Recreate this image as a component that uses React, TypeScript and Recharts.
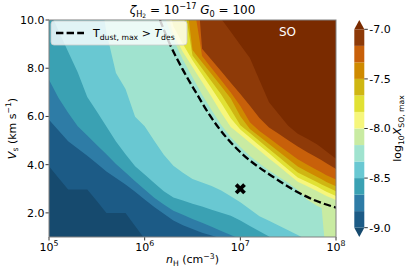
import React from 'react';
import {
  ComposedChart, Area, Line, Scatter, XAxis, YAxis, CartesianGrid, ReferenceArea, Customized,
} from 'recharts';

// sample positions along log10 n_H
const logNH = [5.0, 5.1, 5.2, 5.3, 5.4, 5.5, 5.6, 5.7, 5.8, 5.9, 6.0, 6.1, 6.2, 6.3, 6.4, 6.5, 6.6, 6.7, 6.8, 6.9, 7.0, 7.1, 7.2, 7.3, 7.4, 7.5, 7.6, 7.7, 7.8, 7.85, 7.9, 8.0];

// contour boundaries: V_s (km/s) where log10 X_SO,max crosses each level
const vsLev0 = [3.93, 3.45, 2.97, 2.97, 2.97, 2.49, 2.0, 2.0, 2.0, 1.46, 0.92, 0.38, 0, 0, 0, 0, 0, 0, 0, 0, 0, 0, 0, 0, 0, 0, 0, 0, 0, 0, 0, 0];
const vsLev1 = [5.86, 5.42, 4.97, 4.67, 4.37, 4.05, 3.72, 3.45, 3.18, 2.88, 2.56, 2.24, 1.96, 1.68, 1.49, 1.33, 1.18, 1.06, 0.94, 0.8, 0.6, 0.4, 0, 0, 0, 0, 0, 0, 0, 0, 0, 0];
const vsLev2 = [7.52, 6.77, 6.15, 5.59, 5.21, 4.82, 4.43, 4.03, 3.67, 3.31, 2.97, 2.63, 2.35, 2.09, 1.92, 1.75, 1.59, 1.42, 1.25, 1.08, 0.92, 0.75, 0.5, 0.3, 0, 0, 0, 0, 0, 0, 0, 0];
const vsLev3 = [10.45, 9.55, 8.68, 7.83, 6.81, 6.2, 5.58, 4.96, 4.43, 3.93, 3.59, 3.24, 2.9, 2.64, 2.51, 2.38, 2.26, 2.13, 2.01, 1.88, 1.68, 1.46, 1.24, 1.02, 0.8, 0.6, 0.4, 0.2, 0, 0, 0, 0];
const vsLev4 = [12, 12, 12, 12, 12, 12, 9.49, 7.8, 7.14, 5.99, 5.59, 4.99, 4.41, 3.95, 3.66, 3.41, 3.26, 3.12, 2.93, 2.69, 2.44, 2.15, 1.86, 1.67, 1.48, 1.28, 1.08, 0.88, 0.68, 0.58, 0.48, 0.28];
const vsLev5 = [12, 12, 12, 12, 12, 12, 12, 12, 12, 12, 12, 12, 10.2, 9.2, 8.35, 7.63, 6.91, 6.26, 5.65, 5.14, 4.73, 4.36, 4.05, 3.76, 3.5, 3.25, 2.95, 2.55, 2.3, 2.2, 0, 0];
const vsLev6 = [12, 12, 12, 12, 12, 12, 12, 12, 12, 12, 12, 12, 10.8, 9.42, 8.67, 8.05, 7.43, 6.81, 6.15, 5.56, 5.24, 4.91, 4.59, 4.26, 3.94, 3.61, 3.29, 3.1, 2.91, 2.8, 2.7, 2.53];
const vsLev7 = [12, 12, 12, 12, 12, 12, 12, 12, 12, 12, 12, 12, 11.3, 9.74, 9.0, 8.33, 7.74, 7.16, 6.56, 5.92, 5.46, 5.13, 4.8, 4.47, 4.13, 3.8, 3.47, 3.28, 3.09, 2.98, 2.88, 2.7];
const vsLev8 = [12, 12, 12, 12, 12, 12, 12, 12, 12, 12, 12, 12, 12, 12, 11, 8.53, 7.99, 7.45, 6.91, 6.29, 5.63, 5.31, 4.98, 4.65, 4.33, 4.0, 3.67, 3.48, 3.28, 3.18, 3.08, 2.9];
const vsLev9 = [12, 12, 12, 12, 12, 12, 12, 12, 12, 12, 12, 12, 12, 12, 12, 8.76, 8.25, 7.75, 7.25, 6.74, 6.01, 5.48, 5.17, 4.86, 4.55, 4.23, 3.92, 3.71, 3.5, 3.39, 3.28, 3.1];
const vsLev10 = [12, 12, 12, 12, 12, 12, 12, 12, 12, 12, 12, 12, 12, 12, 12, 11, 8.51, 8.0, 7.5, 6.99, 6.43, 5.76, 5.4, 5.11, 4.81, 4.52, 4.22, 4.0, 3.78, 3.67, 3.56, 3.38];
const vsLev11 = [14, 14, 14, 14, 14, 14, 14, 14, 14, 14, 14, 14, 14, 14, 14, 14, 8.81, 8.34, 7.87, 7.4, 6.93, 6.44, 5.94, 5.54, 5.28, 5.01, 4.75, 4.52, 4.3, 4.18, 4.06, 3.82];
const vsLev12 = [14, 14, 14, 14, 14, 14, 14, 14, 14, 14, 14, 14, 14, 14, 14, 14, 14, 10.6, 10.05, 9.51, 8.96, 8.42, 7.5, 6.59, 6.1, 5.61, 5.28, 5.08, 4.85, 4.7, 4.55, 4.25];

const LEVEL_BOUNDS = [vsLev0, vsLev1, vsLev2, vsLev3, vsLev4, vsLev5, vsLev6, vsLev7, vsLev8, vsLev9, vsLev10, vsLev11, vsLev12];

// colour levels of log10 X_SO,max
const LEVELS = [-9.0, -8.833, -8.667, -8.5, -8.333, -8.167, -8.0, -7.833, -7.667, -7.5, -7.333, -7.167, -7.0];
const CB_TICKS = [-9.0, -8.5, -8.0, -7.5, -7.0];

const UNDER_COLOR = '#164a6e';
// colour above each level (last one = over colour)
const BAND_COLORS = ['#1c5b86', '#2e7ca6', '#3aa1b3', '#69c8d2', '#a0e3cf', '#c9eba2', '#f6f67c', '#e1e134', '#cfb612', '#cf8a00', '#c8600a', '#8e3a08', '#7a2b00'];

// T_dust,max > T_des line
const dashNH = [6.16, 6.26, 6.4, 6.54, 6.68, 6.86, 7.03, 7.13, 7.34, 7.55, 7.76, 8.0];
const dashVs = [10.0, 9.03, 7.93, 6.97, 6.05, 5.1, 4.41, 4.08, 3.5, 2.97, 2.55, 2.22];

const markerNH = [7.0];
const markerVs = [3.0];

const NH_TICKS = [5, 6, 7, 8];
const VS_TICKS = [2, 4, 6, 8, 10];

const FONT = 'DejaVu Sans';
const W = 407;
const H = 272;
const PLOT = { left: 49, top: 20, right: 336, bottom: 237 };

const rows = logNH.map((x, i) => {
  const r: Record<string, number> = { x };
  LEVEL_BOUNDS.forEach((b, k) => { r['b' + k] = b[i]; });
  return r;
});
const dashData = dashNH.map((x, i) => ({ x, v: dashVs[i] }));
const markerData = markerNH.map((x, i) => ({ x, v: markerVs[i] }));

function PowTick({ x, y, payload }: any) {
  return (
    <text x={x} y={y + 8} textAnchor="middle" fontSize={11} fontFamily={FONT} fill="#000">
      10<tspan dy={-4.5} fontSize={7.8}>{payload.value}</tspan>
    </text>
  );
}

function XMark({ cx, cy }: any) {
  const a = 4.2;
  return (
    <g stroke="#000" strokeWidth={3.8}>
      <line x1={cx - a} y1={cy - a} x2={cx + a} y2={cy + a} />
      <line x1={cx - a} y1={cy + a} x2={cx + a} y2={cy - a} />
    </g>
  );
}

// texts, frame and legend drawn above the filled contours
function Overlay() {
  return (
    <g fontFamily={FONT} fill="#000">
      <rect
        x={PLOT.left} y={PLOT.top} width={PLOT.right - PLOT.left} height={PLOT.bottom - PLOT.top}
        fill="none" stroke="#808080" strokeWidth={1}
      />
      <text x={192.5} y={14} textAnchor="middle" fontSize={12}>
        <tspan fontStyle="italic">ζ</tspan>
        <tspan dy={2.5} fontSize={8.2}>H</tspan>
        <tspan dy={1.5} fontSize={6}>2</tspan>
        <tspan dy={-4}>{' = 10'}</tspan>
        <tspan dy={-5} fontSize={8.2}>−17</tspan>
        <tspan dy={5}>{' '}</tspan>
        <tspan fontStyle="italic">G</tspan>
        <tspan dy={2.5} fontSize={8.2}>0</tspan>
        <tspan dy={-2.5}>{' = 100'}</tspan>
      </text>

      <rect x={51} y={21} width={136} height={24} rx={3} fill="#fff" fillOpacity={0.8} stroke="#cccccc" strokeWidth={0.8} />
      <line x1={56} x2={84} y1={33} y2={33} stroke="#000" strokeWidth={2.3} strokeDasharray="7.4 3.2" />
      <text x={93} y={37} fontSize={11}>
        T<tspan dy={2.5} fontSize={7.7}>dust, max</tspan>
        <tspan dy={-2.5}>{' > '}</tspan>
        <tspan fontStyle="italic">T</tspan>
        <tspan dy={2.5} fontSize={7.7}>des</tspan>
      </text>

      <text x={287.5} y={35.5} textAnchor="middle" fontSize={12} fill="#fff">SO</text>

      <text x={192.5} y={263} textAnchor="middle" fontSize={11}>
        <tspan fontStyle="italic">n</tspan>
        <tspan dy={2.5} fontSize={7.7}>H</tspan>
        <tspan dy={-2.5}>{' (cm'}</tspan>
        <tspan dy={-4.5} fontSize={7.7}>−3</tspan>
        <tspan dy={4.5}>)</tspan>
      </text>

      <text transform="translate(15.5,128.5) rotate(-90)" textAnchor="middle" fontSize={11}>
        <tspan fontStyle="italic">V</tspan>
        <tspan dy={2.5} fontSize={7.7}>s</tspan>
        <tspan dy={-2.5}>{' (km s'}</tspan>
        <tspan dy={-4.5} fontSize={7.7}>−1</tspan>
        <tspan dy={4.5}>)</tspan>
      </text>

      <text transform="translate(401,128.5) rotate(-90)" textAnchor="middle" fontSize={11}>
        log<tspan dy={2.5} fontSize={7.7}>10</tspan>
        <tspan dy={-2.5} fontStyle="italic">X</tspan>
        <tspan dy={2.5} fontSize={7.7}>SO, max</tspan>
      </text>
    </g>
  );
}

function triangle(up: boolean, fill: string) {
  return (p: any) => {
    const { x, y, width, height } = p;
    const pts = up
      ? `${x},${y + height} ${x + width},${y + height} ${x + width / 2},${y}`
      : `${x},${y} ${x + width},${y} ${x + width / 2},${y + height}`;
    return <polygon points={pts} fill={fill} />;
  };
}

export default function App() {
  const cbMin = -9.094;
  const cbMax = -6.906;
  return (
    <div style={{ position: 'absolute', left: 0, top: 0, width: W, height: H, background: '#fff', fontFamily: FONT }}>
      <div style={{ position: 'absolute', left: 0, top: 0 }}>
        <ComposedChart
          width={W} height={H} data={rows}
          margin={{ top: PLOT.top, right: W - PLOT.right, bottom: 0, left: 0 }}
        >
          <CartesianGrid horizontal={false} vertical={false} fill={UNDER_COLOR} fillOpacity={1} />
          <XAxis
            dataKey="x" type="number" domain={[5, 8]} ticks={NH_TICKS} interval={0}
            allowDataOverflow height={H - PLOT.bottom} axisLine={false}
            tickSize={3.5} tickMargin={2} tickLine={{ stroke: '#000', strokeWidth: 0.8 }}
            tick={<PowTick />}
          />
          <YAxis
            type="number" domain={[1, 10]} ticks={VS_TICKS} interval={0}
            allowDataOverflow width={PLOT.left} axisLine={false}
            tickSize={3.5} tickMargin={1} tickLine={{ stroke: '#000', strokeWidth: 0.8 }}
            tickFormatter={(v: number) => v.toFixed(1)}
            tick={{ fontSize: 11, fill: '#000', fontFamily: FONT }}
          />
          {LEVEL_BOUNDS.map((_, k) => (
            <Area
              key={k}
              type="linear"
              dataKey={(r: any) => [r['b' + k], 10]}
              fill={BAND_COLORS[k]}
              fillOpacity={1}
              stroke="none"
              dot={false}
              activeDot={false}
              isAnimationActive={false}
            />
          ))}
          <Line
            data={dashData} dataKey="v" type="monotone" stroke="#000" strokeWidth={2.3}
            strokeDasharray="7.4 3.2" dot={false} activeDot={false} isAnimationActive={false}
          />
          <Scatter data={markerData} dataKey="v" shape={<XMark />} isAnimationActive={false} />
        </ComposedChart>
      </div>
      <div style={{ position: 'absolute', left: 0, top: 0 }}>
        <ComposedChart
          width={W} height={H} data={[{ u: 0 }, { u: 1 }]}
          margin={{ top: PLOT.top, right: 2.7, bottom: H - PLOT.bottom, left: 354.3 }}
        >
          <XAxis dataKey="u" type="number" domain={[0, 1]} hide />
          <YAxis
            orientation="right" type="number" domain={[cbMin, cbMax]} ticks={CB_TICKS} interval={0}
            allowDataOverflow width={40} axisLine={false}
            tickSize={3.5} tickMargin={1.5} tickLine={{ stroke: '#000', strokeWidth: 0.8 }}
            tickFormatter={(v: number) => v.toFixed(1)}
            tick={{ fontSize: 11, fill: '#000', fontFamily: FONT }}
          />
          {LEVELS.slice(0, -1).map((lo, k) => (
            <ReferenceArea key={k} x1={0} x2={1} y1={lo} y2={LEVELS[k + 1]} fill={BAND_COLORS[k]} fillOpacity={1} stroke="none" />
          ))}
          <ReferenceArea x1={0} x2={1} y1={cbMin} y2={LEVELS[0]} shape={triangle(false, UNDER_COLOR)} />
          <ReferenceArea x1={0} x2={1} y1={LEVELS[LEVELS.length - 1]} y2={cbMax} shape={triangle(true, BAND_COLORS[12])} />
          <Customized component={Overlay} />
        </ComposedChart>
      </div>
    </div>
  );
}
